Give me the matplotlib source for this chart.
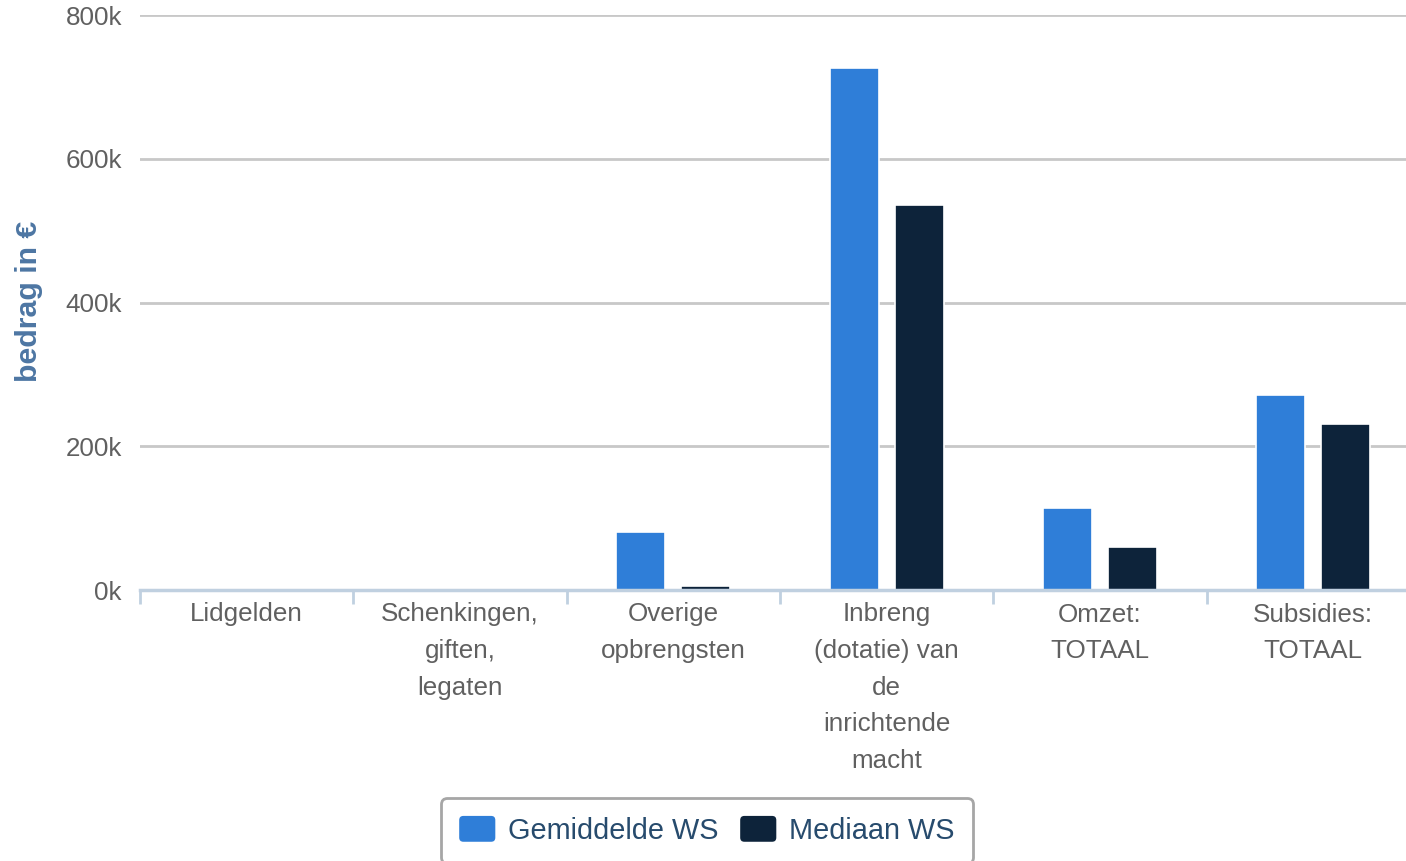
import matplotlib
matplotlib.use("Agg")
import matplotlib.pyplot as plt
import numpy as np
from matplotlib.ticker import FuncFormatter, FixedLocator
from matplotlib.patches import FancyBboxPatch, Patch
from matplotlib.legend_handler import HandlerPatch

plt.rcParams["font.family"] = ["Liberation Sans", "DejaVu Sans"]

categories = [
    "Lidgelden",
    "Schenkingen,\ngiften,\nlegaten",
    "Overige\nopbrengsten",
    "Inbreng\n(dotatie) van\nde\ninrichtende\nmacht",
    "Omzet:\nTOTAAL",
    "Subsidies:\nTOTAAL",
]
gemiddelde = [1500, 1200, 81000, 726000, 114000, 271000]
mediaan = [600, 400, 5000, 536000, 60000, 231000]
series_names = ["Gemiddelde WS", "Mediaan WS"]

BLUE = "#2f7ed8"
NAVY = "#0d233a"
GRID = "#c8c8c8"
AXIS = "#c0d0e0"
LABEL = "#606060"


class RoundHandler(HandlerPatch):
    # rounded legend symbols
    def create_artists(self, legend, orig_handle, xdescent, ydescent,
                       width, height, fontsize, trans):
        p = FancyBboxPatch((-xdescent, -ydescent), width, height,
                           boxstyle="round,pad=0,rounding_size=3",
                           facecolor=orig_handle.get_facecolor(),
                           edgecolor="none", transform=trans)
        return [p]


fig = plt.figure(figsize=(14.06, 8.61), dpi=100)
ax = fig.add_axes([140 / 1406, 271 / 861, 1280 / 1406, 575 / 861])

x = np.arange(len(categories))
w = 0.23
off = 0.152
ax.bar(x - off, gemiddelde, w, color=BLUE, edgecolor="white", linewidth=1.2, zorder=3)
ax.bar(x + off, mediaan, w, color=NAVY, edgecolor="white", linewidth=1.2, zorder=3)

ax.set_xlim(-0.5, len(categories) - 0.5)
ax.set_ylim(0, 800000)
ax.set_yticks(np.arange(0, 800001, 200000))
ax.yaxis.set_major_formatter(FuncFormatter(lambda v, p: f"{v / 1000:.0f}k"))
ax.grid(axis="y", color=GRID, linewidth=2, zorder=0)

for s in ["top", "right", "left"]:
    ax.spines[s].set_visible(False)
ax.spines["bottom"].set_color(AXIS)
ax.spines["bottom"].set_linewidth(2.5)
ax.spines["bottom"].set_zorder(4)

ax.set_xticks(x)
ax.set_xticklabels(categories, fontsize=18.7, color=LABEL, linespacing=1.66)
ax.xaxis.set_minor_locator(FixedLocator(np.arange(-0.5, len(categories), 1.0)))
ax.tick_params(axis="x", which="major", length=0, pad=9)
ax.tick_params(axis="x", which="minor", length=10, width=2, color=AXIS)
ax.tick_params(axis="y", length=0, pad=13, labelsize=18.7, labelcolor=LABEL)

fig.text(29 / 1406, 1 - 301 / 861, "bedrag in €", rotation=90, ha="center",
         va="center", fontsize=21.8, fontweight="bold", color="#4d76a3")

h1 = Patch(facecolor=BLUE)
h2 = Patch(facecolor=NAVY)
leg = fig.legend(handles=[h1, h2], labels=series_names,
                 handler_map={Patch: RoundHandler()},
                 loc="upper center", bbox_to_anchor=(707 / 1406, 1 - 798 / 861),
                 ncol=2, frameon=True, fancybox=True, fontsize=20.8,
                 handlelength=1.25, handleheight=1.0, handletextpad=0.45,
                 columnspacing=0.74, borderpad=0.62, borderaxespad=0)
frame = leg.get_frame()
frame.set_edgecolor("#909090")
frame.set_linewidth(2)
for t in leg.get_texts():
    t.set_color("#274b6d")

fig.savefig("out.png", dpi=100)
